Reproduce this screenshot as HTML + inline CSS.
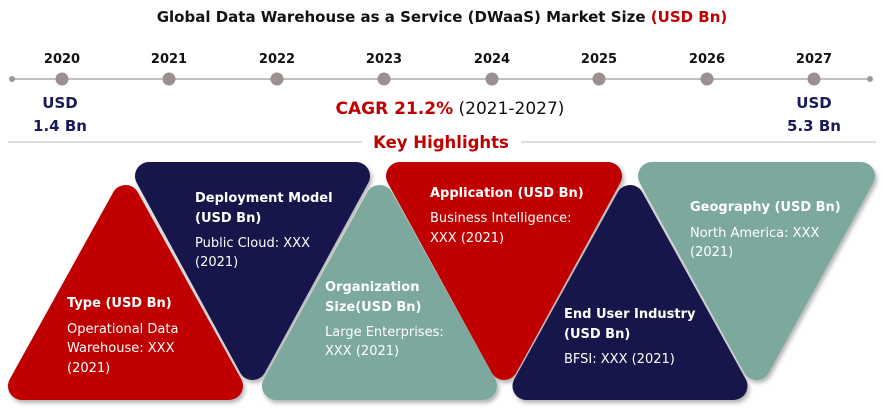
<!DOCTYPE html>
<html><head><meta charset="utf-8"><style>
html,body{margin:0;padding:0;background:#fff;}
svg{display:block;font-family:"DejaVu Sans","Liberation Sans",sans-serif;}
.t{font-weight:bold;font-size:13px;fill:#fff;}
.b{font-size:13px;fill:#fff;}
</style></head><body>
<svg width="884" height="414" viewBox="0 0 884 414" xmlns="http://www.w3.org/2000/svg">
<defs><filter id="sh" x="-10%" y="-10%" width="120%" height="125%"><feDropShadow dx="2" dy="3" stdDeviation="2" flood-color="#000" flood-opacity="0.3"/></filter></defs>
<text x="442" y="22" text-anchor="middle" font-weight="bold" font-size="15" fill="#111">Global Data Warehouse as a Service (DWaaS) Market Size <tspan fill="#c00000">(USD Bn)</tspan></text>
<line x1="12" y1="79" x2="870" y2="79" stroke="#aaa" stroke-width="1.5"/>
<circle cx="12" cy="79" r="3" fill="#a09898"/><circle cx="870" cy="79" r="3" fill="#a09898"/>
<g fill="#9b8f8f">
<circle cx="62" cy="79" r="6.5"/><circle cx="169" cy="79" r="6.5"/><circle cx="277" cy="79" r="6.5"/><circle cx="384" cy="79" r="6.5"/><circle cx="492" cy="79" r="6.5"/><circle cx="599" cy="79" r="6.5"/><circle cx="707" cy="79" r="6.5"/><circle cx="814" cy="79" r="6.5"/></g>
<g font-weight="bold" font-size="13" fill="#111" text-anchor="middle">
<text x="62" y="63">2020</text><text x="169" y="63">2021</text><text x="277" y="63">2022</text><text x="384" y="63">2023</text><text x="492" y="63">2024</text><text x="599" y="63">2025</text><text x="707" y="63">2026</text><text x="814" y="63">2027</text></g>
<g font-weight="bold" font-size="15" fill="#1a1a5a" text-anchor="middle">
<text x="60" y="108">USD</text><text x="60" y="131">1.4 Bn</text>
<text x="814" y="108">USD</text><text x="814" y="131">5.3 Bn</text></g>
<text x="450" y="114" text-anchor="middle" font-size="17" fill="#111"><tspan font-weight="bold" fill="#c00000">CAGR 21.2%</tspan> (2021-2027)</text>
<line x1="8" y1="142" x2="362" y2="142" stroke="#cdd6d6" stroke-width="1.5"/>
<line x1="521" y1="142" x2="876" y2="142" stroke="#cdd6d6" stroke-width="1.5"/>
<text x="441" y="148" text-anchor="middle" font-weight="bold" font-size="16.5" fill="#c00000">Key Highlights</text>
<g stroke-linejoin="round" stroke-width="28" filter="url(#sh)">
<polygon points="149,176 356,176 252.5,366" fill="#13134b" stroke="#13134b"/>
<polygon points="400,176 608,176 504,366" fill="#c00000" stroke="#c00000"/>
<polygon points="652,176 861,176 756.5,366" fill="#7ba89d" stroke="#7ba89d"/>
<polygon points="125.5,199 22,386 229,386" fill="#c00000" stroke="#c00000"/>
<polygon points="379.5,199 276,386 483,386" fill="#7ba89d" stroke="#7ba89d"/>
<polygon points="630,199 526.5,386 733.5,386" fill="#13134b" stroke="#13134b"/>
</g>
<text class="t" x="67" y="307">Type (USD Bn)</text>
<text class="b" x="67" y="333">Operational Data</text>
<text class="b" x="67" y="352">Warehouse: XXX</text>
<text class="b" x="67" y="372">(2021)</text>
<text class="t" x="195" y="202">Deployment Model</text>
<text class="t" x="195" y="222">(USD Bn)</text>
<text class="b" x="195" y="247">Public Cloud: XXX</text>
<text class="b" x="195" y="266">(2021)</text>
<text class="t" x="325" y="291">Organization</text>
<text class="t" x="325" y="311">Size(USD Bn)</text>
<text class="b" x="325" y="336">Large Enterprises:</text>
<text class="b" x="325" y="355">XXX (2021)</text>
<text class="t" x="430" y="197">Application (USD Bn)</text>
<text class="b" x="430" y="222">Business Intelligence:</text>
<text class="b" x="430" y="242">XXX (2021)</text>
<text class="t" x="564" y="318">End User Industry</text>
<text class="t" x="564" y="338">(USD Bn)</text>
<text class="b" x="564" y="363">BFSI: XXX (2021)</text>
<text class="t" x="690" y="211">Geography (USD Bn)</text>
<text class="b" x="690" y="237">North America: XXX</text>
<text class="b" x="690" y="256">(2021)</text>
</svg>
</body></html>
